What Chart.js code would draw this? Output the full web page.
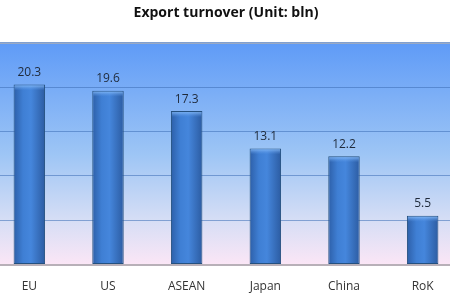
<!DOCTYPE html>
<html>
<head>
<meta charset="utf-8">
<script src="https://cdn.jsdelivr.net/npm/chart.js@4"></script>
<style>
  html, body { margin: 0; padding: 0; background: #fff; overflow: hidden; }
  #wrap { position: absolute; left: -10px; top: 0; width: 472px; height: 309px; }
</style>
</head>
<body>
<div id="wrap"><canvas id="grafico"></canvas></div>
<script>
// dados do grafico
const categorias = ["EU", "US", "ASEAN", "Japan", "China", "RoK"];
const valores = [20.3, 19.6, 17.3, 13.1, 12.2, 5.5];
const titulo = "Export turnover (Unit: bln)";
const eixoMax = 25;
const eixoPasso = 5;

// fundo em degrade da area do grafico
const fundoPlugin = {
  id: 'fundo',
  beforeDraw(chart) {
    const { ctx, chartArea: a } = chart;
    const g = ctx.createLinearGradient(0, a.top, 0, a.bottom);
    g.addColorStop(0, '#5f9bf7');
    g.addColorStop(0.5, '#9dc5f5');
    g.addColorStop(0.8, '#d6def5');
    g.addColorStop(1, '#fbe6f6');
    ctx.save();
    ctx.fillStyle = g;
    ctx.fillRect(a.left, a.top, a.right - a.left, a.bottom - a.top);
    ctx.strokeStyle = '#a9aeb8';
    ctx.lineWidth = 1;
    ctx.beginPath();
    ctx.moveTo(a.left, a.top + 0.5);
    ctx.lineTo(a.right, a.top + 0.5);
    ctx.stroke();
    ctx.restore();
  }
};

// rotulos de valor + brilho no topo das barras
const rotulosPlugin = {
  id: 'rotulos',
  afterDatasetsDraw(chart) {
    const { ctx } = chart;
    const meta = chart.getDatasetMeta(0);
    ctx.save();
    meta.data.forEach((bar, i) => {
      const w = bar.width;
      const x0 = bar.x - w / 2;
      const g = ctx.createLinearGradient(0, bar.y, 0, bar.y + 6);
      g.addColorStop(0, 'rgba(150,200,255,0.9)');
      g.addColorStop(1, 'rgba(90,150,230,0)');
      ctx.fillStyle = g;
      ctx.fillRect(x0 + 1, bar.y + 1, w - 2, 5);
      ctx.fillStyle = '#1f2a3a';
      ctx.font = '12px "Open Sans", sans-serif';
      ctx.textAlign = 'center';
      ctx.textBaseline = 'bottom';
      ctx.fillText(valores[i].toFixed(1), bar.x, bar.y - 6);
    });
    ctx.restore();
  }
};

const corBarra = (context) => {
  const chart = context.chart;
  const xs = chart.scales.x;
  if (!chart.chartArea || !xs) return '#3c78cc';
  const larg = xs.width / categorias.length * 0.4;
  const cx = xs.getPixelForValue(context.dataIndex);
  const g = chart.ctx.createLinearGradient(cx - larg / 2, 0, cx + larg / 2, 0);
  g.addColorStop(0, '#2d5fa8');
  g.addColorStop(0.3, '#3f7fd4');
  g.addColorStop(0.55, '#4586dc');
  g.addColorStop(1, '#2c5ca2');
  return g;
};

new Chart(document.getElementById('grafico'), {
  type: 'bar',
  data: {
    labels: categorias,
    datasets: [{
      label: titulo,
      data: valores,
      backgroundColor: corBarra,
      borderColor: '#24507f',
      borderWidth: 1,
      borderSkipped: false,
      categoryPercentage: 1,
      barPercentage: 0.4
    }]
  },
  options: {
    responsive: true,
    maintainAspectRatio: false,
    animation: false,
    layout: { padding: { top: 5, left: 0, right: 0, bottom: 0 } },
    plugins: {
      legend: { display: false },
      tooltip: { enabled: false },
      title: {
        display: true,
        text: titulo,
        color: '#111',
        font: { family: '"Open Sans", sans-serif', size: 14, weight: 'bold' },
        padding: { top: 0, bottom: 21 }
      }
    },
    scales: {
      x: {
        grid: { display: false, drawTicks: false },
        border: { display: true, color: '#b8b0b8', width: 2 },
        ticks: { color: '#333', font: { family: '"Open Sans", sans-serif', size: 12 }, padding: 15 }
      },
      y: {
        display: true,
        min: 0,
        max: eixoMax,
        ticks: { display: false, stepSize: eixoPasso },
        grid: { color: 'rgba(60,110,180,0.55)', drawTicks: false, lineWidth: 1 },
        border: { display: false }
      }
    }
  },
  plugins: [fundoPlugin, rotulosPlugin]
});
</script>
</body>
</html>
